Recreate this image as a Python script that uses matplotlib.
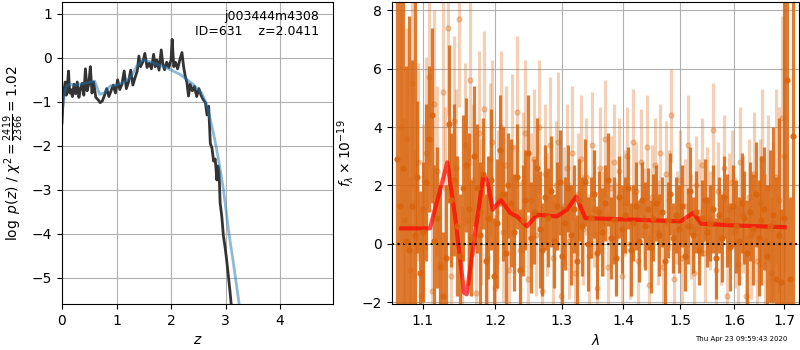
import matplotlib
matplotlib.use('Agg')
import matplotlib.pyplot as plt
from matplotlib.ticker import FixedLocator, FixedFormatter, NullLocator
import numpy as np

# p(z) curve (left panel)
Z_PZ = [0.0, 0.02, 0.04, 0.06, 0.08, 0.10, 0.12, 0.14, 0.16, 0.19, 0.22, 0.25, 0.28, 0.31,
        0.34, 0.37, 0.40, 0.43, 0.46, 0.49, 0.52, 0.55, 0.58, 0.62, 0.66, 0.70, 0.74, 0.78,
        0.82, 0.86, 0.90, 0.94, 0.98, 1.02, 1.06, 1.10, 1.14, 1.18, 1.22, 1.26, 1.30, 1.34,
        1.38, 1.41, 1.44, 1.48, 1.52, 1.56, 1.60, 1.64, 1.68, 1.71, 1.74, 1.78, 1.82, 1.85,
        1.88, 1.92, 1.96, 2.00, 2.02, 2.05, 2.08, 2.12, 2.16, 2.20, 2.23, 2.26, 2.29, 2.32,
        2.35, 2.39, 2.43, 2.47, 2.51, 2.55, 2.59, 2.63, 2.66, 2.69, 2.72, 2.75, 2.78, 2.81,
        2.84, 2.86, 2.88, 2.90, 2.93, 2.96, 2.99, 3.02, 3.05, 3.08, 3.11]
LOGP = [-1.48, -0.95, -0.70, -0.55, -0.85, -0.62, -0.30, -0.80, -0.72, -0.88, -0.60, -0.82,
        -0.55, -0.90, -0.70, -0.58, -0.85, -0.25, -0.75, -0.60, -0.20, -0.80, -0.55, -0.90,
        -0.95, -1.02, -0.98, -0.85, -0.70, -0.88, -0.75, -0.62, -0.80, -0.50, -0.72, -0.60,
        -0.30, -0.70, -0.55, -0.28, -0.62, -0.45, -0.30, 0.04, -0.20, -0.10, 0.10, -0.22,
        -0.12, -0.25, 0.08, -0.20, -0.05, -0.28, 0.18, -0.15, -0.27, -0.10, -0.22, -0.05,
        0.42, -0.20, -0.10, -0.25, -0.05, 0.12, -0.20, -0.42, -0.55, -0.87, -0.60, -0.75,
        -0.65, -0.88, -0.70, -0.85, -0.95, -1.02, -1.30, -1.10, -1.95, -2.05, -2.35, -2.30,
        -2.78, -2.46, -2.60, -3.30, -3.60, -4.05, -4.30, -4.60, -4.95, -5.30, -5.70]

# smooth prior/fit curve
Z_SM = [0.0, 0.04, 0.08, 0.15, 0.25, 0.33, 0.45, 0.60, 0.69, 0.78, 0.88, 1.00, 1.18, 1.28,
        1.37, 1.49, 1.67, 1.92, 2.17, 2.41, 2.56, 2.65, 2.72, 2.80, 2.87, 2.96, 3.06, 3.15, 3.26]
LOGP_SM = [-1.25, -0.85, -0.64, -0.60, -0.62, -0.60, -0.57, -0.53, -0.83, -0.80, -0.64,
           -0.62, -0.53, -0.40, -0.19, -0.04, -0.11, -0.23, -0.38, -0.61, -0.80, -1.05,
           -1.40, -1.85, -2.31, -2.99, -3.98, -4.73, -5.70]

# spectrum, first grism set (dark)
WAVE1_RANGE = (1.067, 1.717)
FLUX1 = [2.9, 1.3, 2.6, 0.1, -0.2, 1.3, 0.3, 2.3, -1.0, 0.4,
         2.1, 3.6, 4.4, 0.1, 0.9, -0.8, -1.8, -0.5, 4.1, 1.5,
         2.2, 0.6, -0.4, 1.9, 2.7, 1.2, 0.2, 3.0, 1.9, 0.3,
         2.4, -0.6, 0.9, 2.2, -1.1, 0.7, 3.2, 1.7, -0.3, 2.0,
         1.4, 0.4, 2.3, -0.9, 0.8, 1.5, 3.1, 0.2, 1.1, 2.6,
         0.5, -0.2, 1.6, 0.9, 1.8, 0.1, 1.3, 2.1, -0.4, 0.7,
         1.9, 0.3, 1.2, -0.6, 1.5, 0.6, 2.1, 0.0, 0.9, 1.7,
         -0.3, 1.1, 0.4, 1.4, 2.2, 0.2, 0.8, -0.5, 1.6, 0.5,
         1.0, 1.9, -0.2, 0.7, 1.3, 0.1, 1.5, 0.6, 1.2, -0.1,
         0.9, 1.4, 0.3, 1.1, -0.6, 0.8, 1.7, 0.2, 1.0, 0.5,
         1.3, -0.4, 0.6, 1.8, 0.3, 1.1, -0.2, 0.9, 1.5, 0.4,
         0.7, 1.2, -0.5, 1.0, 0.2, 1.6, 0.8, -0.1, 1.3, 0.6,
         0.1, 1.4, 0.9, -0.3, 1.1, 0.5, 1.7, 0.2, 0.8, 1.2,
         -0.4, 0.6, 1.0, -1.2, 0.3, -1.3, 0.9, 5.6, -1.2, 3.7]
ERR1 = [10, 9, 10, 6, 8, 5, 9, 2.6, 2.8, 2.4,
        2.7, 2.5, 3.0, 2.6, 2.4, 2.8, 2.2, 2.5, 2.7, 2.3,
        2.6, 2.4, 2.1, 2.5, 2.3, 2.6, 2.0, 2.4, 2.2, 2.5,
        1.9, 2.3, 2.1, 2.4, 2.0, 2.2, 1.9, 2.3, 2.1, 1.8,
        2.2, 2.0, 1.8, 2.1, 1.9, 1.7, 2.0, 1.9, 1.8, 1.7,
        2.0, 1.6, 1.8, 1.7, 1.9, 1.6, 1.5, 1.8, 1.7, 1.6,
        1.5, 1.7, 1.5, 1.6, 1.4, 1.7, 1.5, 1.6, 1.4, 1.5,
        1.6, 1.4, 1.5, 1.3, 1.6, 1.4, 1.5, 1.3, 1.4, 1.5,
        1.3, 1.4, 1.6, 1.3, 1.5, 1.4, 1.3, 1.5, 1.4, 1.6,
        1.5, 1.3, 1.4, 1.2, 1.5, 1.3, 1.4, 1.2, 1.3, 1.5,
        1.4, 1.2, 1.3, 1.5, 1.3, 1.4, 1.2, 1.3, 1.4, 1.2,
        1.3, 1.5, 1.4, 1.3, 1.5, 1.4, 1.6, 1.5, 1.4, 1.6,
        1.5, 1.7, 1.6, 1.8, 1.7, 1.9, 1.8, 2.0, 2.2, 2.1,
        2.4, 2.6, 3.0, 3.5, 4.0, 2.5, 10, 10, 2.8, 10]

# spectrum, second grism set (light)
WAVE2_RANGE = (1.072, 1.700)
FLUX2 = [4.0, 0.8, 3.6, -0.9, 5.5, 0.2, 2.8, -1.8, 1.2, 3.1,
         5.7, -1.6, 4.8, 2.5, -0.7, 5.2, 1.9, 7.4, -1.1, 4.2,
         2.6, 7.7, -1.3, 3.4, 0.8, 5.6, 2.2, -1.7, 3.8, 1.1,
         4.6, -0.5, 2.9, 3.5, -1.5, 1.6, 4.0, 0.4, 2.7, -0.9,
         3.3, 1.2, 4.5, -0.2, 2.1, 3.8, -1.2, 1.5, 2.9, 0.3,
         4.0, -1.6, 2.4, 1.0, 3.4, -0.5, 2.0, 3.5, -1.8, 1.3,
         2.6, 0.1, 3.1, -1.0, 1.7, 2.9, 0.5, 2.3, -0.4, 3.4,
         1.2, -1.5, 2.6, 0.7, 3.6, -0.8, 1.9, 2.8, 0.2, 2.5,
         -1.1, 1.4, 3.0, 0.0, 3.5, 1.8, -0.6, 2.8, 0.9, 3.3,
         -1.4, 1.6, 2.7, 0.4, 3.1, -0.8, 2.4, 1.5, 4.4, -1.2,
         0.9, 2.2, -0.5, 1.3, 3.4, 0.6, -1.0, 2.0, 1.1, 2.7,
         -0.3, 1.5, 0.8, 3.9, -0.9, 1.8, 0.2, 2.6, -1.8, 1.2,
         2.1, 0.4, -0.7, 2.8, 1.0, -1.8, 1.6, 0.3, 2.4, -0.6,
         1.4, 2.9, 0.1, 1.9, -1.0, 0.7, 2.3, 1.5, 4.3, 3.0]
ERR2 = [4.0, 3.5, 3.8, 3.2, 3.6, 3.0, 3.4, 3.1, 2.9, 3.3,
        3.0, 2.8, 3.2, 2.9, 2.7, 3.1, 2.8, 3.0, 2.6, 2.9,
        2.7, 3.0, 2.6, 2.8, 2.5, 2.9, 2.6, 2.7, 2.8, 2.5,
        2.7, 2.4, 2.6, 2.8, 2.5, 2.3, 2.6, 2.4, 2.7, 2.3,
        2.5, 2.2, 2.6, 2.3, 2.4, 2.5, 2.2, 2.3, 2.4, 2.1,
        2.3, 2.2, 2.4, 2.1, 2.3, 2.0, 2.2, 2.4, 2.1, 2.0,
        2.2, 2.0, 2.3, 1.9, 2.1, 2.2, 1.9, 2.0, 2.1, 1.8,
        2.0, 1.9, 2.1, 1.8, 2.0, 1.9, 1.8, 2.0, 1.9, 1.8,
        1.9, 1.8, 1.7, 1.9, 1.8, 1.7, 1.9, 1.8, 1.7, 1.8,
        1.7, 1.8, 1.6, 1.8, 1.7, 1.6, 1.8, 1.7, 1.6, 1.7,
        1.6, 1.7, 1.8, 1.6, 1.7, 1.8, 1.6, 1.7, 1.8, 1.6,
        1.7, 1.8, 1.7, 1.6, 1.8, 1.7, 1.6, 1.8, 1.7, 1.9,
        1.8, 1.9, 2.0, 1.9, 2.0, 2.1, 2.0, 2.2, 2.1, 2.3,
        2.2, 2.4, 2.3, 2.5, 2.6, 2.8, 3.0, 3.2, 3.5, 4.0]

# best-fit model
WAVE_MODEL = [1.0716, 1.1096, 1.1330, 1.1436, 1.1561, 1.1597, 1.1716, 1.1834, 1.1890, 1.1967,
              1.2083, 1.2221, 1.2320, 1.2470, 1.2621, 1.2928, 1.3085, 1.3232, 1.3376, 1.40,
              1.50, 1.5233, 1.5379, 1.60, 1.7004]
FLUX_MODEL = [0.53, 0.53, 2.79, 0.94, -1.67, -1.73, 0.37, 2.37, 2.14, 1.17,
              1.51, 1.06, 0.94, 0.60, 1.00, 0.94, 1.17, 1.62, 0.88, 0.84,
              0.77, 1.06, 0.69, 0.63, 0.57]

LAM_TICKS = [1.1, 1.2, 1.3, 1.4, 1.5, 1.6, 1.7]

ORANGE = '#d9650f'

fig = plt.figure(figsize=(8, 3.5), dpi=100)
ax1 = fig.add_axes([62/800, 46/350, 271/800, 302/350])
ax2 = fig.add_axes([392/800, 46/350, 407/800, 302/350])

ax1.plot(Z_PZ, LOGP, color='0.2', lw=2)
ax1.plot(Z_SM, LOGP_SM, color='#1f77b4', alpha=0.5, lw=2)
ax1.set_xlim(0, 4.97)
ax1.set_ylim(-5.6, 1.27)
ax1.set_xticks([0, 1, 2, 3, 4])
ax1.set_yticks([-5, -4, -3, -2, -1, 0, 1])
ax1.grid(True)
ax1.set_xlabel('$z$')
ax1.set_ylabel(r'$\log\ p(z)$ / $\chi^2=\frac{2419}{2366}=1.02$')
ax1.text(0.95, 0.975, 'j003444m4308\nID=631    z=2.0411', transform=ax1.transAxes,
         ha='right', va='top', fontsize=9)

# pixels are spaced evenly on the (log) wavelength axis
w1 = np.geomspace(*WAVE1_RANGE, len(FLUX1))
w2 = np.geomspace(*WAVE2_RANGE, len(FLUX2))
ax2.errorbar(w2, FLUX2, yerr=ERR2, color=ORANGE, alpha=0.3, marker='o', ms=3.5,
             linestyle='none', elinewidth=2.3)
ax2.errorbar(w1, FLUX1, yerr=ERR1, color=ORANGE, alpha=0.85, marker='o', ms=3.5,
             linestyle='none', elinewidth=2.3)
ax2.plot(WAVE_MODEL, FLUX_MODEL, color='r', alpha=0.7, lw=3)
ax2.axhline(0, color='k', linestyle=':', lw=1.5)
ax2.set_xscale('log')
ax2.set_xlim(1.06, 1.73)
ax2.set_ylim(-2.06, 8.28)
ax2.xaxis.set_major_locator(FixedLocator(LAM_TICKS))
ax2.xaxis.set_major_formatter(FixedFormatter([f'{t:.1f}' for t in LAM_TICKS]))
ax2.xaxis.set_minor_locator(NullLocator())
ax2.set_yticks([-2, 0, 2, 4, 6, 8])
ax2.grid(True)
ax2.set_xlabel(r'$\lambda$')
ax2.set_ylabel(r'$f_\lambda\times10^{-19}$')

fig.text(0.984, 0.022, 'Thu Apr 23 09:59:43 2020', ha='right', va='bottom', fontsize=5)

fig.savefig('out.png', dpi=100)
